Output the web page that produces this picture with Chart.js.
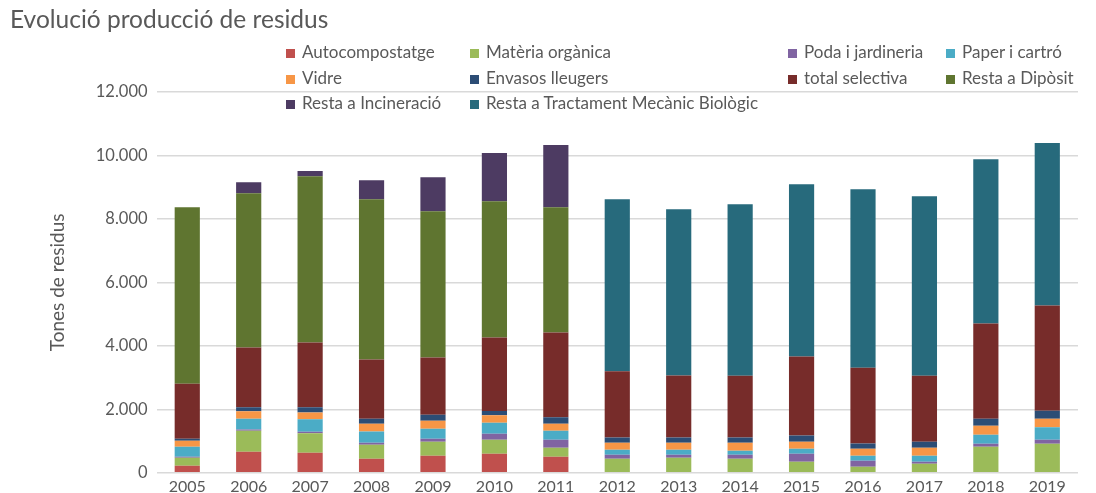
<!DOCTYPE html>
<html>
<head>
<meta charset="utf-8">
<script src="https://cdn.jsdelivr.net/npm/chart.js@4/dist/chart.umd.min.js"></script>
<style>
  html, body { margin: 0; padding: 0; background: #fff; }
  #wrap { position: relative; width: 1096px; height: 493px; }
  #chart { display: block; }
  #title { position: absolute; left: 10px; top: 4px; font: 24.5px Lato, sans-serif; color: #595959; }
  #legend { position: absolute; left: 286px; top: 39px; display: grid;
    grid-template-columns: 184px 318px 158px auto; grid-auto-rows: 25.5px;
    font: 17px Lato, sans-serif; color: #595959; }
  #legend span.box { display: inline-block; width: 9px; height: 9px; margin-right: 7px; }
  #legend div { white-space: nowrap; line-height: 25px; }
</style>
</head>
<body>
<div id="wrap">
  <canvas id="chart" width="1096" height="493"></canvas>
  <div id="title">Evolució producció de residus</div>
  <div id="legend"></div>
</div>
<script>
var years = ["2005", "2006", "2007", "2008", "2009", "2010", "2011", "2012", "2013", "2014", "2015", "2016", "2017", "2018", "2019"];
var yTicks = [0, 2000, 4000, 6000, 8000, 10000, 12000];

var autocompostatge = [220, 663, 632, 442, 537, 600, 505, 0, 0, 0, 0, 0, 0, 0, 0];
var materiaOrganica = [253, 663, 611, 442, 442, 442, 284, 442, 474, 442, 347, 189, 284, 821, 916];
var poda = [30, 42, 53, 63, 95, 189, 253, 126, 95, 126, 253, 189, 63, 95, 126];
var paper = [316, 337, 390, 358, 316, 347, 284, 158, 158, 126, 158, 158, 189, 284, 390];
var vidre = [190, 232, 211, 242, 253, 232, 221, 221, 221, 253, 221, 221, 253, 284, 274];
var envasos = [63, 126, 168, 158, 189, 137, 200, 168, 168, 168, 200, 168, 189, 221, 253];
var totalSelectiva = [1737, 1884, 2042, 1863, 1800, 2316, 2674, 2084, 1947, 1947, 2484, 2389, 2084, 3000, 3316];
var restaDiposit = [5558, 4863, 5242, 5053, 4611, 4295, 3947, 0, 0, 0, 0, 0, 0, 0, 0];
var restaIncineracio = [0, 347, 158, 600, 1074, 1516, 1958, 0, 0, 0, 0, 0, 0, 0, 0];
var restaTMB = [0, 0, 0, 0, 0, 0, 0, 5421, 5242, 5400, 5432, 5621, 5653, 5179, 5116];

var series = [
  ["Autocompostatge", autocompostatge, "#c0504d"],
  ["Matèria orgànica", materiaOrganica, "#9bbb59"],
  ["Poda i jardineria", poda, "#8064a2"],
  ["Paper i cartró", paper, "#4bacc6"],
  ["Vidre", vidre, "#f79646"],
  ["Envasos lleugers", envasos, "#2c4d75"],
  ["total selectiva", totalSelectiva, "#772c2a"],
  ["Resta a Dipòsit", restaDiposit, "#5f7530"],
  ["Resta a Incineració", restaIncineracio, "#4d3b62"],
  ["Resta a Tractament Mecànic Biològic", restaTMB, "#276a7c"]
];

function fmt(v) {
  return String(v).replace(/\B(?=(\d{3})+(?!\d))/g, ".");
}

var grey = "#595959";

window.chart = new Chart(document.getElementById("chart").getContext("2d"), {
  type: "bar",
  data: {
    labels: years,
    datasets: series.map(function(s) {
      return { label: s[0], data: s[1], backgroundColor: s[2], borderWidth: 0,
               categoryPercentage: 1, barPercentage: 0.41 };
    })
  },
  options: {
    responsive: false,
    animation: false,
    layout: { padding: { top: 92, left: 46, right: 18, bottom: -7 } },
    plugins: { legend: { display: false }, tooltip: { enabled: false } },
    scales: {
      x: {
        stacked: true,
        grid: { display: false, drawTicks: false },
        border: { display: false },
        ticks: { color: grey, font: { family: "Lato", size: 16 }, padding: 4 }
      },
      y: {
        stacked: true,
        min: 0,
        max: 12000,
        afterBuildTicks: function(axis) {
          axis.ticks = yTicks.map(function(v) { return { value: v }; });
        },
        grid: { color: "#d9d9d9", lineWidth: 1.5, drawTicks: false },
        border: { display: false },
        ticks: { color: grey, font: { family: "Lato", size: 16.5 }, padding: 9,
                 callback: function(v) { return fmt(v); } },
        title: { display: true, text: "Tones de residus", color: grey,
                 font: { family: "Lato", size: 19 }, padding: { top: 0, bottom: 18 } }
      }
    }
  }
});

var legend = document.getElementById("legend");
window.chart.data.datasets.forEach(function(ds) {
  var item = document.createElement("div");
  var box = document.createElement("span");
  box.className = "box";
  box.style.background = ds.backgroundColor;
  item.appendChild(box);
  item.appendChild(document.createTextNode(ds.label));
  legend.appendChild(item);
});
</script>
</body>
</html>
